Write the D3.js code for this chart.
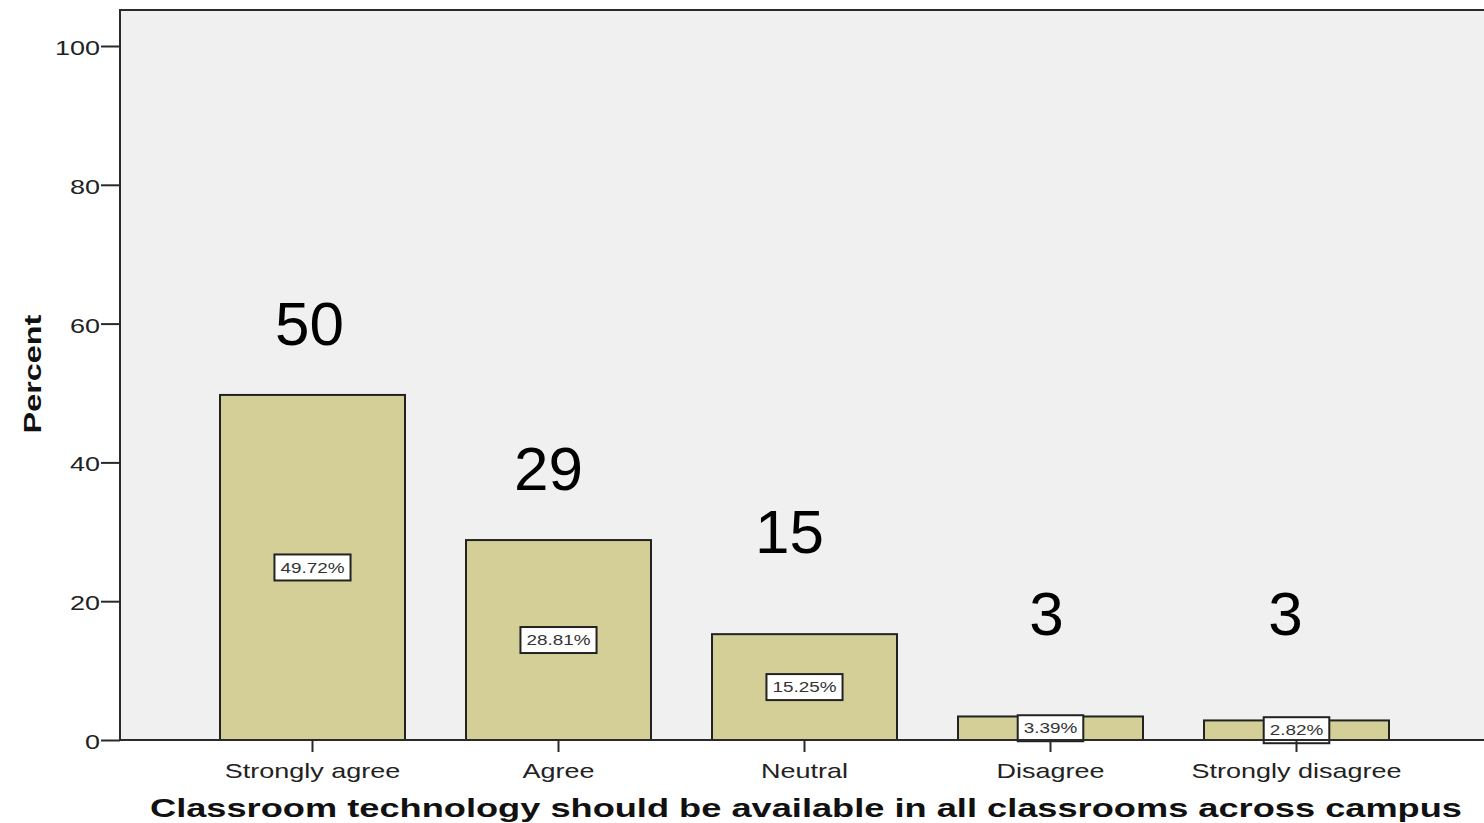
<!DOCTYPE html>
<html>
<head>
<meta charset="utf-8">
<script src="https://cdn.jsdelivr.net/npm/d3@7"></script>
<style>
  body { margin: 0; background: #fff; }
  text { font-family: Arial, "Liberation Sans", sans-serif; }
</style>
</head>
<body>
<div id="chart"></div>
<script>
const categories = ['Strongly agree', 'Agree', 'Neutral', 'Disagree', 'Strongly disagree']
const percents = [49.72, 28.81, 15.25, 3.39, 2.82]
const yTicks = [0, 20, 40, 60, 80, 100]
const xTitle = 'Classroom technology should be available in all classrooms across campus'
const yTitle = 'Percent'

const width = 1484
const height = 823
const plot = { left: 120, top: 10, right: 1500, bottom: 740 }
const stretch = 1.35 // the text in the original is wide, like it was resampled
// hand placed big numbers, shifted a bit from the bar centre
const annotDx = [-3, -10, -15, -4, -11]
const annotDy = [50, 50, 81, 81, 85]

const svg = d3.select('#chart').append('svg')
  .attr('width', width)
  .attr('height', height)

const y = d3.scaleLinear()
  .domain([0, 100])
  .range([plot.bottom, 46])

const x = d3.scaleBand()
  .domain(categories)
  .range([189.5, 1419.5])
  .paddingInner(0.248)
  .paddingOuter(0.124)

// plot background
svg.append('rect')
  .attr('x', plot.left)
  .attr('y', plot.top)
  .attr('width', plot.right - plot.left)
  .attr('height', plot.bottom - plot.top)
  .attr('fill', '#f0f0f0')
  .attr('stroke', '#2a2a2a')
  .attr('stroke-width', 2)

// bars
svg.append('g')
  .selectAll('rect')
  .data(percents)
  .join('rect')
  .attr('x', (d, i) => x(categories[i]))
  .attr('y', d => y(d))
  .attr('width', x.bandwidth())
  .attr('height', d => y(0) - y(d))
  .attr('fill', '#d3cf97')
  .attr('stroke', '#222')
  .attr('stroke-width', 2)

// percent boxes in the middle of each bar
const boxes = svg.append('g')
  .selectAll('g')
  .data(percents)
  .join('g')
  .attr('transform', (d, i) => `translate(${x(categories[i]) + x.bandwidth() / 2},${y(d / 2)})`)

boxes.append('rect').attr('class', 'box')
boxes.append('text')
  .attr('text-anchor', 'middle')
  .attr('dy', '0.36em')
  .attr('font-size', 14)
  .attr('fill', '#333')
  .attr('transform', `scale(${stretch},1)`)
  .text(d => d.toFixed(2) + '%')

boxes.each(function () {
  const g = d3.select(this)
  const w = g.select('text').node().getComputedTextLength() * stretch + 12
  g.select('rect')
    .attr('x', -w / 2)
    .attr('y', -13)
    .attr('width', w)
    .attr('height', 26)
    .attr('fill', '#fff')
    .attr('stroke', '#222')
    .attr('stroke-width', 2)
})

// y axis
const yAxisG = svg.append('g')
  .attr('transform', `translate(${plot.left},0)`)
  .call(d3.axisLeft(y).tickValues(yTicks).tickSize(19).tickPadding(0))
yAxisG.select('.domain').remove()
yAxisG.selectAll('.tick line').attr('stroke', '#2a2a2a').attr('stroke-width', 2)
yAxisG.selectAll('.tick text')
  .attr('font-size', 20)
  .attr('fill', '#222')
  .attr('x', -20 / stretch)
  .attr('dy', '0.42em')
  .attr('transform', `scale(${stretch},1)`)

// baseline
svg.append('line')
  .attr('x1', plot.left)
  .attr('x2', plot.right)
  .attr('y1', y(0))
  .attr('y2', y(0))
  .attr('stroke', '#2a2a2a')
  .attr('stroke-width', 2)

// x axis
const xAxisG = svg.append('g')
  .attr('transform', `translate(0,${plot.bottom})`)
  .call(d3.axisBottom(x).tickSize(12).tickPadding(0))
xAxisG.select('.domain').remove()
xAxisG.selectAll('.tick line').attr('stroke', '#2a2a2a').attr('stroke-width', 2)
xAxisG.selectAll('.tick text')
  .attr('font-size', 20)
  .attr('fill', '#222')
  .attr('y', 38)
  .attr('dy', 0)
  .attr('transform', `scale(${stretch},1)`)

// big rounded numbers above bars
svg.append('g')
  .selectAll('text')
  .data(percents)
  .join('text')
  .attr('x', (d, i) => x(categories[i]) + x.bandwidth() / 2 + annotDx[i])
  .attr('y', (d, i) => y(d) - annotDy[i])
  .attr('text-anchor', 'middle')
  .attr('font-size', 62)
  .attr('fill', '#000')
  .text(d => Math.round(d))

// axis titles
svg.append('text')
  .attr('x', 806)
  .attr('y', 817)
  .attr('text-anchor', 'middle')
  .attr('font-size', 26)
  .attr('font-weight', 'bold')
  .attr('fill', '#111')
  .attr('textLength', 1312)
  .attr('lengthAdjust', 'spacingAndGlyphs')
  .text(xTitle)

svg.append('text')
  .attr('transform', `translate(41,374) rotate(-90) scale(${stretch},1)`)
  .attr('text-anchor', 'middle')
  .attr('font-size', 24)
  .attr('font-weight', 'bold')
  .attr('fill', '#111')
  .text(yTitle)
</script>
</body>
</html>
